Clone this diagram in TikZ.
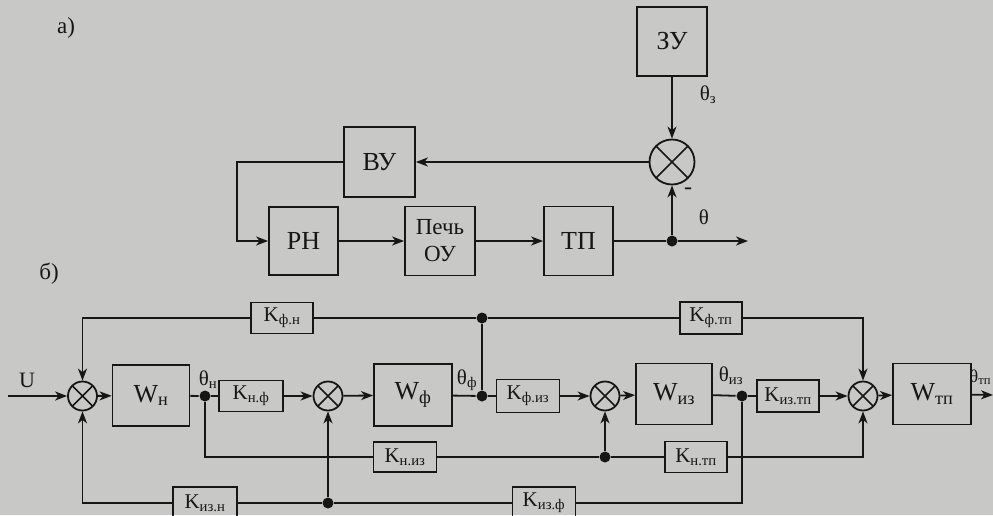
\documentclass[tikz,border=0pt]{standalone}
\usepackage{fontspec}
\setmainfont{Liberation Serif}
\usetikzlibrary{arrows.meta}
\definecolor{paper}{RGB}{200,200,198}
\definecolor{ink}{RGB}{22,22,22}
\begin{document}
\begin{tikzpicture}[x=1pt,y=-1pt,line width=1.8pt,
  every node/.style={text=ink},
  box/.style={draw=ink,line width=1.8pt,inner sep=0pt,font=\fontsize{26}{28}\selectfont},
  kbox/.style={draw=ink,line width=1.8pt,inner sep=0pt,minimum width=63pt,minimum height=31pt,font=\fontsize{21}{23}\selectfont},
  wbox/.style={draw=ink,line width=1.8pt,inner sep=0pt,minimum width=77pt,minimum height=61pt,font=\fontsize{26}{28}\selectfont},
  sum/.style={draw=ink,line width=1.8pt,circle,minimum size=29pt,inner sep=0pt,
    path picture={\draw[ink,line width=1.5pt] (path picture bounding box.north west) -- (path picture bounding box.south east)
      (path picture bounding box.north east) -- (path picture bounding box.south west);}},
  dot/.style={circle,fill=ink,minimum size=11pt,inner sep=0pt},
  lbl/.style={inner sep=0pt,font=\fontsize{21}{23}\selectfont},
  arr/.style={-{Stealth[length=12pt,width=9pt,inset=3.5pt]}}]
\fill[paper] (0,0) rectangle (993,515);
\clip (0,0) rectangle (993,515);
\useasboundingbox (0,0) rectangle (993,515);
\begin{scope}[draw=ink]
% ---------- part a ----------
\node[lbl,font=\fontsize{23}{25}\selectfont] (la) at (66,28) {а)};
\node[box,minimum width=70pt,minimum height=69pt] (ZU) at (672,41.5) {ЗУ};
\node[sum,minimum size=45pt] (sa) at (672,162) {};
\node[box,minimum width=71pt,minimum height=70pt] (VU) at (379.5,162) {ВУ};
\node[box,minimum width=69pt,minimum height=68pt] (RN) at (303.5,241) {РН};
\node[box,minimum width=70pt,minimum height=69pt,align=center,font=\fontsize{23}{27}\selectfont] (PO) at (440,241) {Печь\\ОУ};
\node[box,minimum width=69pt,minimum height=69pt] (TP) at (578.5,241) {ТП};
\node[dot] (d0) at (672,241) {};
\coordinate (aout) at (748,241);
\coordinate (c1) at (237,162);
\node[lbl] (thz) at (708,95) {θ\textsubscript{з}};
\node[lbl,font=\fontsize{24}{26}\selectfont] (minus) at (688,191) {-};
\node[lbl] (th) at (704,217) {θ};
\draw[arr] (ZU) -- (sa);
\draw[arr] (sa) -- (VU);
\draw[arr] (VU.west) -- (c1) |- (RN.west);
\draw[arr] (RN) -- (PO);
\draw[arr] (PO) -- (TP);
\draw (TP) -- (d0);
\draw[arr] (d0) -- (aout);
\draw[arr] (d0) -- (sa);
% ---------- part b ----------
\node[lbl,font=\fontsize{23}{25}\selectfont] (lb) at (49,274) {б)};
\node[lbl,font=\fontsize{22}{24}\selectfont] (U) at (27,380) {U};
\coordinate (uin) at (8,396);
\node[sum] (s1) at (82.5,396) {};
\node[wbox] (Wn) at (151,395.5) {W\textsubscript{н}};
\node[dot] (dn) at (205,396) {};
\node[lbl] (thn) at (208,380) {θ\textsubscript{н}};
\node[kbox,minimum width=64pt] (Knf) at (251,396) {K\textsubscript{н.ф}};
\node[sum] (s2) at (328,396) {};
\node[wbox,minimum width=78pt,minimum height=62pt] (Wf) at (413,395) {W\textsubscript{ф}};
\node[lbl] (thf) at (467,380) {θ\textsubscript{ф}};
\node[dot] (df) at (482,396) {};
\node[dot] (dft) at (482,318) {};
\node[kbox,minimum width=62pt] (Kfn) at (282,318) {K\textsubscript{ф.н}};
\node[kbox,minimum height=33pt] (Kfi) at (528,396) {K\textsubscript{ф.из}};
\node[sum] (s3) at (605,396) {};
\node[wbox,minimum width=76pt] (Wi) at (674,394) {W\textsubscript{из}};
\node[lbl] (thi) at (731,376) {θ\textsubscript{из}};
\node[dot] (di) at (742,396) {};
\node[kbox,minimum width=62pt,minimum height=32pt] (Kit) at (788,396) {K\textsubscript{из.тп}};
\node[sum] (s4) at (863,396) {};
\node[wbox,minimum width=78pt] (Wt) at (932,394) {W\textsubscript{тп}};
\node[lbl,anchor=east,font=\fontsize{18}{20}\selectfont] (tht) at (992,377) {θ\textsubscript{тп}};
\coordinate (tout) at (993,395);
\node[kbox,minimum width=62pt,minimum height=32pt] (Kft) at (711,318) {K\textsubscript{ф.тп}};
\node[kbox,minimum height=30pt] (Kni) at (405,457) {K\textsubscript{н.из}};
\node[dot] (dni) at (605,457) {};
\node[kbox,minimum width=62pt] (Knt) at (696,457) {K\textsubscript{н.тп}};
\node[kbox,minimum width=64pt,minimum height=32pt] (Kin) at (205,503) {K\textsubscript{из.н}};
\node[dot] (dib) at (328,503) {};
\node[kbox,minimum height=32pt] (Kif) at (544,503) {K\textsubscript{из.ф}};
% main chain
\draw[arr] (uin) -- (s1);
\draw[arr] (s1) -- (Wn);
\draw (Wn) -- (dn);
\draw (dn) -- (Knf);
\draw[arr] (Knf) -- (s2);
\draw[arr] (s2) -- (Wf);
\draw (Wf) -- (df);
\draw (df) -- (Kfi);
\draw[arr] (Kfi) -- (s3);
\draw[arr] (s3) -- (Wi);
\draw (Wi) -- (di);
\draw (di) -- (Kit);
\draw[arr] (Kit) -- (s4);
\draw[arr] (s4) -- (Wt);
\draw[arr] (Wt) -- (tout);
% top line
\draw (df) -- (dft);
\draw (dft) -- (Kfn);
\draw[arr] (Kfn.west) -| (s1.north);
\draw (dft) -- (Kft);
\draw[arr] (Kft.east) -| (s4.north);
% middle line
\draw (dn) |- (Kni.west);
\draw (Kni) -- (dni);
\draw[arr] (dni) -- (s3);
\draw (dni) -- (Knt);
\draw[arr] (Knt.east) -| (s4.south);
% bottom line
\draw (di) |- (Kif.east);
\draw (Kif) -- (dib);
\draw[arr] (dib) -- (s2);
\draw (dib) -- (Kin);
\draw[arr] (Kin.west) -| (s1.south);
\end{scope}
\end{tikzpicture}
\end{document}
